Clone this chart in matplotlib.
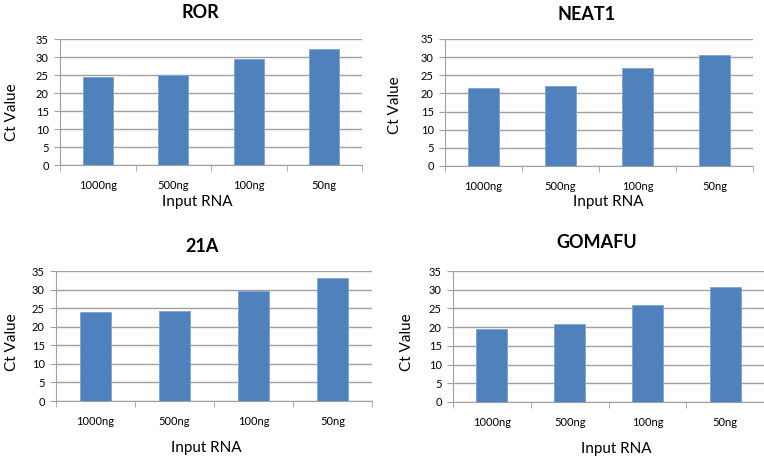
import numpy as np
import matplotlib
matplotlib.use("Agg")
import matplotlib.pyplot as plt

plt.rcParams['font.family'] = ['Lato', 'DejaVu Sans']

categories = ["1000ng", "500ng", "100ng", "50ng"]
ror = [24.4, 25.1, 29.4, 32.2]
neat1 = [21.4, 22.1, 27.1, 30.6]
a21 = [24.0, 24.3, 29.5, 33.0]
gomafu = [19.6, 20.8, 25.8, 30.8]

titles = ["ROR", "NEAT1", "21A", "GOMAFU"]
series = [ror, neat1, a21, gomafu]
yticks = [0, 5, 10, 15, 20, 25, 30, 35]

W, H = 764, 459
# pixel layout per panel: left, right, top, bottom, title xy, xlabel xy, ylabel xy
layout = [
    dict(box=(60, 362, 39, 165), title=(200, 13), xl=(197, 202), yl=(12, 112)),
    dict(box=(445, 753, 39, 166), title=(587, 14), xl=(608, 202), yl=(395, 105)),
    dict(box=(56, 372, 271, 401), title=(202, 246), xl=(206, 448), yl=(12, 342)),
    dict(box=(453, 764, 271, 402), title=(597, 243), xl=(616, 449), yl=(407, 342)),
]

bar_color = "#4F81BD"
grid_color = "#A0A0A0"

fig = plt.figure(figsize=(W / 100, H / 100), dpi=100)

def px(x, y):
    return x / W, 1 - y / H

for name, vals, lay in zip(titles, series, layout):
	l, r, t, b = lay["box"]
	ax = fig.add_axes([l / W, 1 - b / H, (r - l) / W, (b - t) / H])
	x = np.arange(len(categories))
	ax.bar(x, vals, width=0.4, color=bar_color, edgecolor="#7DA2D2", linewidth=0.6, zorder=3)
	ax.set_xlim(-0.5, len(categories) - 0.5)
	ax.set_ylim(0, 35)
	ax.set_yticks(yticks)
	ax.set_xticks(x)
	ax.set_xticklabels(categories, fontsize=8)
	ax.set_xticks(np.arange(-0.5, len(categories)), minor=True)
	ax.tick_params(axis="x", which="major", length=0, pad=11)
	ax.tick_params(axis="x", which="minor", length=4, color=grid_color, direction="out")
	ax.tick_params(axis="y", length=4, color=grid_color, pad=4, labelsize=8)
	ax.grid(axis="y", color=grid_color, linewidth=1.0, zorder=0)
	for s in ["top", "right"]:
		ax.spines[s].set_visible(False)
	ax.spines["left"].set_color(grid_color)
	ax.spines["bottom"].set_color(grid_color)
	ax.set_axisbelow(True)

	fig.text(*px(*lay["title"]), name, ha="center", va="center", fontsize=13, fontweight="bold")
	fig.text(*px(*lay["xl"]), "Input RNA", ha="center", va="center", fontsize=11)
	fig.text(*px(*lay["yl"]), "Ct Value", ha="center", va="center", fontsize=11, rotation=90)

fig.savefig("out.png", dpi=100)
